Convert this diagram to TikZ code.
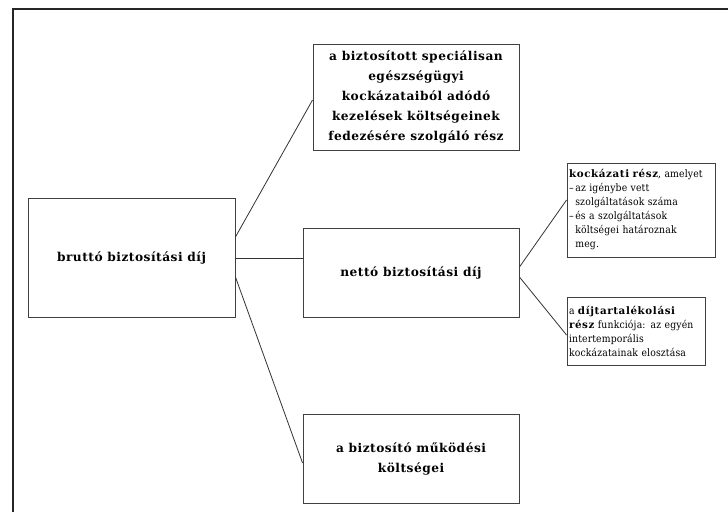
\documentclass[tikz,border=0pt]{standalone}
\usepackage{fontspec}
\setmainfont{DejaVu Serif}
\newfontfamily\spfont[LetterSpace=4]{DejaVu Serif}
\newfontfamily\smfont[LetterSpace=1.5]{DejaVu Serif Condensed}
\newfontfamily\smbfont[LetterSpace=6]{DejaVu Serif}
\newcommand{\kb}[1]{{\smbfont\bfseries #1}}
\begin{document}
\begin{tikzpicture}[x=1pt,y=1pt,
  box/.style={draw=black!75, line width=0.9pt, inner sep=0pt, align=center,
    font=\spfont\bfseries\fontsize{12.2}{20}\selectfont},
  smallbox/.style={draw=black!75, line width=0.9pt, inner ysep=0pt, inner xsep=2pt, align=left,
    font=\smfont\fontsize{10.3}{14}\selectfont},
  conn/.style={draw=black!80, line width=0.8pt}]
\useasboundingbox (0,0) rectangle (728,512);
\fill[white] (0,0) rectangle (728,512);
\draw[black!85, line width=1.3pt] (13,0) -- (13,503) -- (728,503);

\node[box, minimum width=206pt, minimum height=106pt] (top) at (416,415)
  {a biztosított speciálisan\\egészségügyi\\kockázataiból adódó\\kezelések költségeinek\\fedezésére szolgáló rész};
\node[box, minimum width=207pt, minimum height=119pt] (brutto) at (131.5,254.5)
  {bruttó biztosítási díj};
\node[box, minimum width=216pt, minimum height=89pt] (netto) at (411,239.5)
  {nettó biztosítási díj};
\node[box, minimum width=216pt, minimum height=89pt] (mukodes) at (411,53.5)
  {a biztosító működési\\költségei};
\node[smallbox, minimum width=148pt, minimum height=94pt, text width=144pt] (kock) at (641,302)
  {\kb{kockázati rész}, amelyet\\
   –\,az igénybe vett\\
   \phantom{–\,}szolgáltatások száma\\
   –\,és a szolgáltatások\\
   \phantom{–\,}költségei határoznak\\
   \phantom{–\,}meg.};
\node[smallbox, minimum width=138pt, minimum height=68pt, text width=134pt] (dij) at (636,181)
  {a \kb{díjtartalékolási}\\
   \kb{rész} funkciója: az egyén\\
   intertemporális\\
   kockázatainak elosztása};

\draw[conn] ([yshift=20.5pt]brutto.east) -- ([yshift=-3pt]top.west);
\draw[conn] ([yshift=-0.5pt]brutto.east) -- ([yshift=14.5pt]netto.west);
\draw[conn] ([yshift=-19.5pt]brutto.east) -- ([yshift=-4.5pt]mukodes.west);
\draw[conn] ([yshift=5.5pt]netto.east) -- ([yshift=10pt]kock.west);
\draw[conn] ([yshift=-4.5pt]netto.east) -- ([yshift=-4pt]dij.west);
\end{tikzpicture}
\end{document}
